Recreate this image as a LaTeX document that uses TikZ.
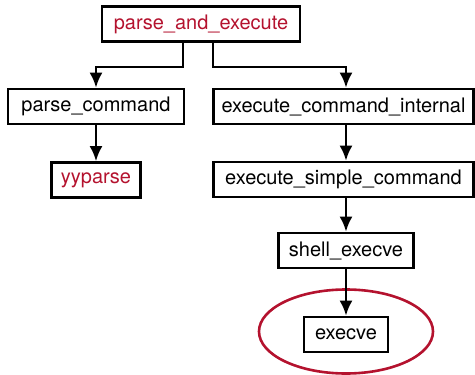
\documentclass[tikz,border=0pt]{standalone}
\usepackage{fontspec}
\setmainfont{TeX Gyre Heros}
\usetikzlibrary{positioning, arrows.meta, shapes.geometric}
\definecolor{bashred}{RGB}{180,18,46}
\tikzset{cbox/.style={draw, line width=2.6pt, minimum height=35pt, inner sep=0pt, font=\fontsize{20}{24}\selectfont}}
\tikzset{hl/.style={text=bashred}}
\tikzset{carr/.style={draw, line width=2.6pt, -{Latex[length=15pt,width=13pt]}}}

\begin{document}
\begin{tikzpicture}[x=1pt, y=-1pt]
		\useasboundingbox (0,0) rectangle (475,375);
		\node[cbox, hl, minimum width=198pt] (pae) at (201,24) {parse\_and\_execute};
		\node[cbox, minimum width=176pt] (pc) at (96,106.5) {parse\_command};
		\node[cbox, minimum width=260pt] (eci) at (343.5,106.5) {execute\_command\_internal};
		\node[cbox, hl, minimum width=89pt] (yy) at (96,180) {yyparse};
		\node[cbox, minimum width=260pt] (esc) at (343.5,179.5) {execute\_simple\_command};
		\node[cbox, minimum width=135pt] (se) at (346,250.5) {shell\_execve};
		\node[cbox, minimum width=84pt] (ex) at (346,334.5) {execve};
		% mark around the last call
		\draw[bashred, line width=2.6pt] ([yshift=3pt]ex.center) ellipse [x radius=87, y radius=42];
		\draw[carr] ([xshift=-18pt]pae.south) -- ++(0,24) -| (pc.north);
		\draw[carr] ([xshift=12pt]pae.south) -- ++(0,24) -| (se.north |- eci.north);
		\draw[carr] (pc) -- (yy);
		\draw[carr] (se.north |- eci.south) -- (se.north |- esc.north);
		\draw[carr] (se.north |- esc.south) -- (se);
		\draw[carr] (se) -- (ex);
	\end{tikzpicture}
\end{document}
